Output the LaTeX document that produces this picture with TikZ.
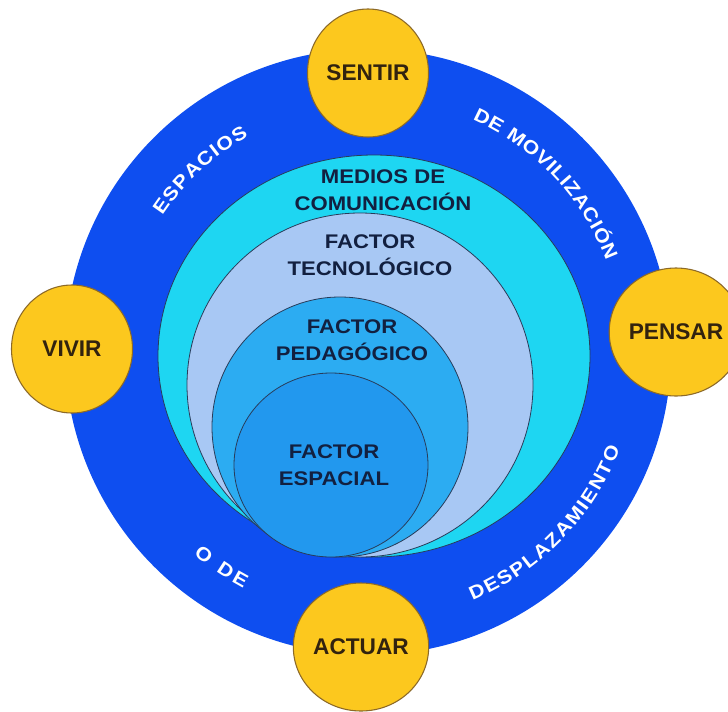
\documentclass[tikz,border=0pt]{standalone}
\usepackage{fontspec}
\setmainfont{Liberation Sans}
\newfontfamily\labelfont{Liberation Sans}[FakeStretch=1.12]
\usetikzlibrary{shapes.geometric,decorations.text}

\definecolor{ringblue}{RGB}{14,78,240}
\definecolor{mediacyan}{RGB}{30,214,242}
\definecolor{techlav}{RGB}{168,200,244}
\definecolor{pedblue}{RGB}{44,172,242}
\definecolor{spaceblue}{RGB}{34,152,238}
\definecolor{actyellow}{RGB}{252,200,30}
\definecolor{actedge}{RGB}{140,105,40}
\definecolor{navytext}{RGB}{18,32,64}
\definecolor{browntext}{RGB}{50,35,15}
\definecolor{ovaledge}{RGB}{40,60,90}

\newcommand\ringfont{\labelfont\fontsize{14.2}{16}\selectfont\bfseries}

\begin{document}
\begin{tikzpicture}[x=0.75pt,y=0.75pt,
  action/.style={ellipse, draw=actedge, line width=0.8pt, fill=actyellow,
    minimum width=90.75pt, minimum height=96pt, inner sep=0pt,
    text=browntext, font=\fontsize{17}{20}\selectfont\bfseries},
  factor/.style={text=navytext, align=center,
    font=\labelfont\fontsize{14.8}{20}\selectfont\bfseries},
  oval/.style={draw=ovaledge, line width=0.6pt},
  ringtext/.style={decorate, decoration={text along path,
    text={|\ringfont|#1}, text color=white, text align={fit to path}}}]

\fill[white] (0,0) rectangle (728,-711);
\useasboundingbox (0,0) rectangle (728,-711);
\clip (0,0) rectangle (728,-711);

% outer ring
\coordinate (c) at (368,-352);
\fill[ringblue] (c) circle[radius=303];

% lettering along the ring
\path[ringtext={ESPACIOS}] (c) ++(146.5:246.5) arc[start angle=146.5, end angle=119, radius=246.5];
\path[ringtext={DE MOVILIZACIÓN}] (c) ++(65.8:255) arc[start angle=65.8, end angle=21, radius=255];
\path[ringtext={O DE}] (c) ++(229.2:267) arc[start angle=229.2, end angle=242.2, radius=267];
\path[ringtext={DESPLAZAMIENTO}] (c) ++(292.8:270) arc[start angle=292.8, end angle=339, radius=270];

% nested factors
\filldraw[oval, fill=mediacyan] (374,-356) ellipse[x radius=216, y radius=201];
\filldraw[oval, fill=techlav] (360,-385) ellipse[x radius=173, y radius=172];
\filldraw[oval, fill=pedblue] (340,-427) ellipse[x radius=128, y radius=130];
\filldraw[oval, fill=spaceblue] (331,-465) ellipse[x radius=97, y radius=92];

\node[factor] (medios) at (383,-190) {MEDIOS DE\\COMUNICACIÓN};
\node[factor] (tecno) at (370,-255) {FACTOR\\TECNOLÓGICO};
\node[factor] (pedago) at (352,-340) {FACTOR\\PEDAGÓGICO};
\node[factor] (espacial) at (334,-465) {FACTOR\\ESPACIAL};

% actions around the ring
\node[action] (sentir) at (368,-73) {SENTIR};
\node[action] (vivir) at (72,-349) {VIVIR};
\node[action] (pensar) at (676,-332) {PENSAR};
\node[action] (actuar) at (361,-647) {ACTUAR};
\end{tikzpicture}
\end{document}
